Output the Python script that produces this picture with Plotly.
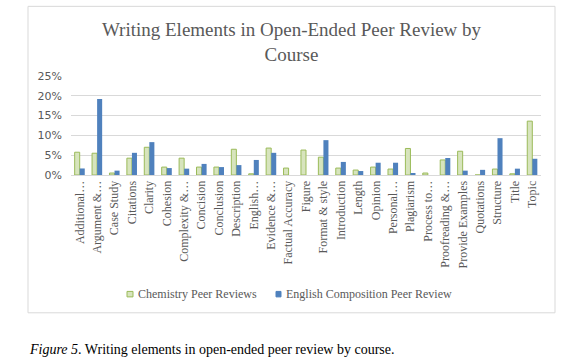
import plotly.graph_objects as go

categories = ["Additional…", "Argument &…", "Case Study", "Citations", "Clarity", "Cohesion",
              "Complexity &…", "Concision", "Conclusion", "Description", "English…", "Evidence &…",
              "Factual Accuracy", "Figure", "Format & style", "Introduction", "Length", "Opinion",
              "Personal…", "Plagiarism", "Process to…", "Proofreading &…", "Provide Examples",
              "Quotations", "Structure", "Title", "Topic"]

chemistry = [5.75, 5.5, 0.5, 4.25, 7.0, 2.0, 4.25, 2.0, 2.0, 6.5, 0.3, 6.8,
             1.75, 6.3, 4.5, 1.75, 1.25, 2.0, 1.5, 6.7, 0.5, 3.8, 6.0, 0.0, 1.5, 0.3, 13.6]
english = [1.65, 19.2, 1.1, 5.6, 8.3, 1.75, 1.6, 2.8, 2.0, 2.5, 3.8, 5.6,
           0.0, 0.0, 8.8, 3.3, 1.0, 3.1, 3.1, 0.3, 0.0, 4.3, 1.1, 1.3, 9.3, 1.6, 4.1]

series_names = ["Chemistry Peer Reviews", "English Composition Peer Review"]

y_ticks = [0, 5, 10, 15, 20, 25]
y_ticklabels = ["0%", "5%", "10%", "15%", "20%", "25%"]

chem_pct = [v / 100 for v in chemistry]
eng_pct = [v / 100 for v in english]

W, H = 572, 360
L, R, T, B = 71, 541, 76, 175.5

def px(x):
    return (x - L) / (R - L)

def py(y):
    return (B - y) / (B - T)

GRAY = "#595959"
SERIF = "Liberation Serif, Times New Roman, serif"
GREEN_FILL, GREEN_LINE, BLUE = "#D7E4BD", "#9BBB59", "#4F81BD"

fig = go.Figure()
fig.add_trace(go.Bar(
    x=categories, y=chem_pct, name=series_names[0],
    marker=dict(color=GREEN_FILL, line=dict(color=GREEN_LINE, width=1)),
))
fig.add_trace(go.Bar(
    x=categories, y=eng_pct, name=series_names[1],
    marker=dict(color=BLUE, line=dict(color=BLUE, width=0)),
))

# manual legend (small squares + text)
legend_items = [
    dict(sq=(127, 133), tx=136, fill=GREEN_FILL, line=GREEN_LINE, name=series_names[0]),
    dict(sq=(276, 281), tx=283.5, fill=BLUE, line=BLUE, name=series_names[1]),
]
shapes = [dict(
    type="rect", xref="paper", yref="paper",
    x0=px(28), x1=px(555), y0=py(314), y1=py(6),
    line=dict(color="#D9D9D9", width=1), fillcolor="rgba(0,0,0,0)", layer="below",
)]
annotations = []
for it in legend_items:
    shapes.append(dict(
        type="rect", xref="paper", yref="paper",
        x0=px(it["sq"][0]), x1=px(it["sq"][1]), y0=py(298), y1=py(292.5),
        line=dict(color=it["line"], width=1), fillcolor=it["fill"],
    ))
    annotations.append(dict(
        text=it["name"], xref="paper", yref="paper", x=px(it["tx"]), y=py(295.5),
        xanchor="left", yanchor="middle", showarrow=False,
        font=dict(family=SERIF, size=12, color=GRAY),
    ))
annotations.append(dict(
    text="<i>Figure 5</i>. Writing elements in open-ended peer review by course.",
    xref="paper", yref="paper", x=px(27), y=py(351), xanchor="left", yanchor="middle",
    showarrow=False, font=dict(family=SERIF, size=14, color="#000000"),
))

fig.update_layout(
    width=W, height=H,
    margin=dict(l=L, r=W - R, t=T, b=H - B, pad=0),
    paper_bgcolor="white", plot_bgcolor="white",
    barmode="group", bargap=0.42, bargroupgap=0.0,
    showlegend=False,
    title=dict(
        text="Writing Elements in Open-Ended Peer Review by<br>Course",
        x=291.5 / W, xref="container", xanchor="center",
        y=1 - 36 / H, yref="container", yanchor="middle",
        font=dict(family=SERIF, size=19, color=GRAY),
    ),
    xaxis=dict(
        tickangle=-90, tickfont=dict(family=SERIF, size=12, color=GRAY),
        showline=True, linecolor="#D9D9D9", linewidth=1,
        ticks="", showgrid=False, automargin=False,
    ),
    yaxis=dict(
        range=[0, 0.25], tickvals=[t / 100 for t in y_ticks], ticktext=y_ticklabels,
        tickfont=dict(family="DejaVu Sans, Verdana, sans-serif", size=11, color=GRAY),
        showgrid=True, gridcolor="#D9D9D9", gridwidth=1,
        zeroline=False, showline=False, ticks="", ticklabelstandoff=8, automargin=False,
    ),
    shapes=shapes,
    annotations=annotations,
)

fig.write_html(
    "out.html",
    config={"displayModeBar": False},
    post_script="document.body.style.margin='0';document.body.style.overflow='hidden';",
)
